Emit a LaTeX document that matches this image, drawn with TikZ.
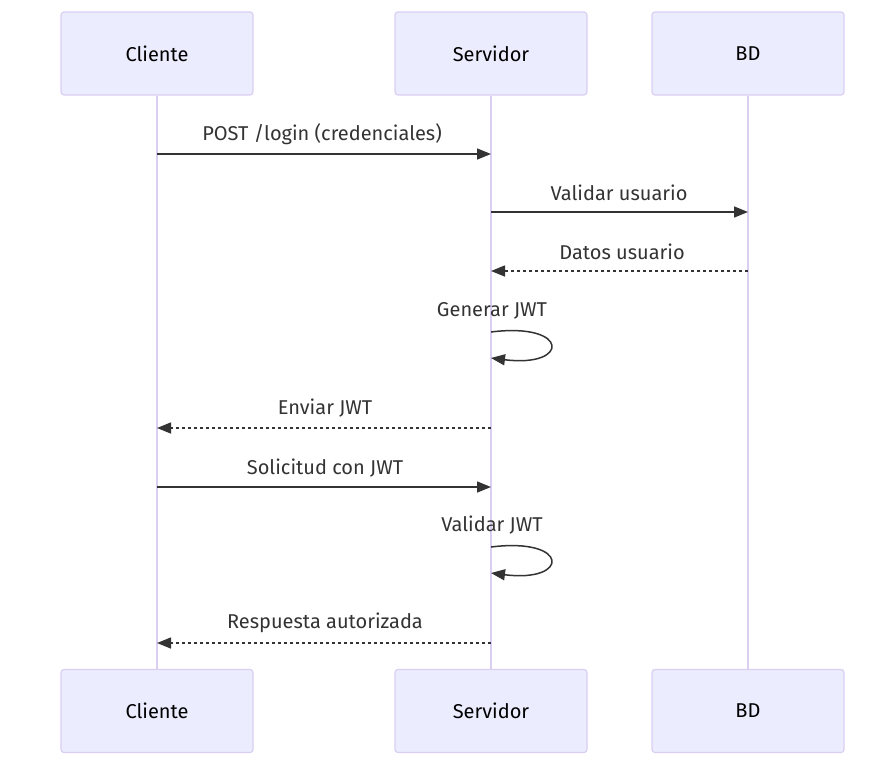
\documentclass[tikz,border=0pt]{standalone}
\usepackage{fontspec}
\setmainfont{Fira Sans}
\usetikzlibrary{arrows.meta}
\definecolor{actfill}{HTML}{ECECFF}
\definecolor{actline}{HTML}{DACEF3}
\definecolor{msg}{HTML}{333333}
\begin{document}
\begin{tikzpicture}[x=1pt,y=-1pt,
  actor/.style={draw=actline,line width=1.2pt,fill=actfill,rounded corners=3pt,minimum width=192pt,minimum height=83pt,inner sep=0pt,font=\fontsize{20}{24}\selectfont,text=black},
  life/.style={draw=actline,line width=1.5pt},
  msgline/.style={draw=msg,line width=1.5pt,-{Triangle[length=14pt,width=11pt]}},
  reply/.style={msgline,dash pattern=on 3pt off 3pt},
  lbl/.style={font=\fontsize{20}{24}\selectfont,text=msg,inner sep=0pt}]
\useasboundingbox (0,0) rectangle (874,779);
% actors
\node[actor] (cT) at (157,53.5) {Cliente};
\node[actor] (sT) at (491,53.5) {Servidor};
\node[actor] (bT) at (748,53.5) {BD};
\node[actor] (cB) at (157,711) {Cliente};
\node[actor] (sB) at (491,711) {Servidor};
\node[actor] (bB) at (748,711) {BD};
% lifelines
\draw[life] (cT.south) -- (cB.north);
\draw[life] (sT.south) -- (sB.north);
\draw[life] (bT.south) -- (bB.north);
% lifeline coordinates
\coordinate (c1) at (157,154); \coordinate (s1) at (491,154);
\coordinate (s2) at (491,212); \coordinate (b2) at (748,212);
\coordinate (b3) at (748,271); \coordinate (s3) at (491,271);
\coordinate (s4a) at (491,332); \coordinate (s4b) at (491,358);
\coordinate (s5) at (491,428); \coordinate (c5) at (157,428);
\coordinate (c6) at (157,487); \coordinate (s6) at (491,487);
\coordinate (s7a) at (491,547); \coordinate (s7b) at (491,573);
\coordinate (s8) at (491,643); \coordinate (c8) at (157,643);
% messages
\draw[msgline] (c1) -- (s1);
\node[lbl] (l1) at (322,134) {POST /login (credenciales)};
\draw[msgline] (s2) -- (b2);
\node[lbl] (l2) at (619,193) {Validar usuario};
\draw[reply] (b3) -- (s3);
\node[lbl] (l3) at (622,252) {Datos usuario};
\draw[msgline] (s4a) .. controls (570,322) and (570,368) .. (s4b);
\node[lbl] (l4) at (492,311) {Generar JWT};
\draw[reply] (s5) -- (c5);
\node[lbl] (l5) at (325,408) {Enviar JWT};
\draw[msgline] (c6) -- (s6);
\node[lbl] (l6) at (325,468) {Solicitud con JWT};
\draw[msgline] (s7a) .. controls (570,537) and (570,583) .. (s7b);
\node[lbl] (l7) at (492,525) {Validar JWT};
\draw[reply] (s8) -- (c8);
\node[lbl] (l8) at (325,623) {Respuesta autorizada};
\end{tikzpicture}
\end{document}
